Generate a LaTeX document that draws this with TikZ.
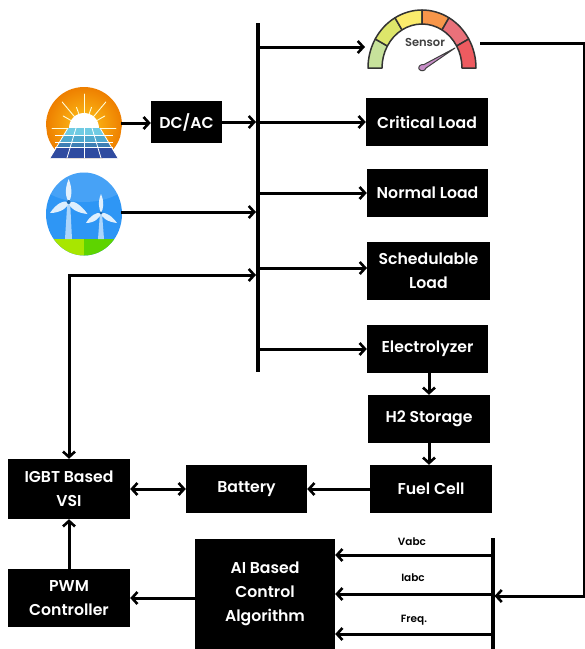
\documentclass[tikz,border=0pt]{standalone}
\usepackage{fontspec}
\setmainfont{Poppins}[BoldFont={Poppins SemiBold}]
\usetikzlibrary{arrows.meta}
\tikzset{
  box/.style={fill=black,text=white,inner sep=0pt,align=center,font=\fontsize{15.7}{24}\selectfont\bfseries},
  wire/.style={line width=3pt,draw=black},
  flow/.style={wire,-{Straight Barb[length=5.5pt,width=12pt,line width=2.6pt]}},
  flowboth/.style={wire,{Straight Barb[length=5.5pt,width=12pt,line width=2.6pt]}-{Straight Barb[length=5.5pt,width=12pt,line width=2.6pt]}},
  tobus/.style={shorten >=2pt},
  bus/.style={line width=4pt,draw=black},
  tag/.style={inner sep=0pt,text=black,font=\fontsize{10.5}{12}\selectfont\bfseries},
  seg/.style={draw=black!80,line width=1.5pt,line join=round},
  blade/.style={fill=white,fill opacity=.85},
  ray/.style={draw=white!85!yellow,line width=.9pt,line cap=round}
}
\definecolor{g1}{HTML}{C7E29B}\definecolor{g2}{HTML}{DDE66A}\definecolor{g3}{HTML}{FBEC6C}
\definecolor{g4}{HTML}{F7964A}\definecolor{g5}{HTML}{E9717A}\definecolor{g6}{HTML}{EE5B60}
\definecolor{skyb}{HTML}{2E96F5}\definecolor{grl}{HTML}{A8E600}\definecolor{grd}{HTML}{5ED400}
\definecolor{sunout}{HTML}{EE7F00}\definecolor{sunin}{HTML}{FFC61A}
\definecolor{p1}{HTML}{6FCBE3}\definecolor{p2}{HTML}{4FA9CF}\definecolor{p3}{HTML}{3E7FB4}\definecolor{p4}{HTML}{2F4BA0}
\newcommand{\gaugeseg}[3]{\filldraw[seg,fill=#3] ({422+54*cos(#1)},{68-58*sin(#1)}) arc[start angle=-#1,end angle=-#2,x radius=54,y radius=58]
  -- ({422+40*cos(#2)},{68-44*sin(#2)}) arc[start angle=-#2,end angle=-#1,x radius=40,y radius=44] -- cycle;}
\begin{document}
\begin{tikzpicture}[x=1pt,y=-1pt]
\useasboundingbox (0,0) rectangle (585,649);
% solar icon
\begin{scope}
  \clip (50,158) -- (117,158) -- (122,125) arc[start angle=0,end angle=-180,x radius=38,y radius=38] -- cycle;
  \shade[inner color=sunin,outer color=sunout] (84,125) ellipse[x radius=38,y radius=38];
  \foreach \a/\l in {180/32,150/24,130/34,110/22,90/34,70/22,50/34,30/24,0/32}
    \draw[ray] (84,128) -- ++({\l*cos(\a)},{-\l*sin(\a)});
  \fill[white] (84,128) ellipse[x radius=15,y radius=15];
\end{scope}
\fill[p1] (68,128) -- (100,128) -- (104,135) -- (64,135) -- cycle;
\fill[p2] (64,135) -- (104,135) -- (108,142) -- (60,142) -- cycle;
\fill[p3] (60,142) -- (108,142) -- (111,147) -- (57,147) -- cycle;
\fill[p4] (57,147) -- (111,147) -- (118,158) -- (50,158) -- cycle;
\foreach \t/\b in {68/50,76/67,84/84,92/101,100/118}
  \draw[white,line width=.8pt] (\t,128) -- (\b,158);
\foreach \y in {135,142,147} \draw[white,line width=.7pt] (55,\y) -- (113,\y);
\node[inner sep=0pt,minimum size=0pt] (solar) at (121,123) {};
% wind icon
\begin{scope}
  \clip (84,214) ellipse[x radius=38,y radius=41.5];
  \fill[skyb] (46,172) rectangle (122,256);
  \fill[white,opacity=.12] (84,172) ellipse[x radius=50,y radius=30];
  \fill[grl] (46,239) rectangle (84,256);
  \fill[grd] (84,239) rectangle (122,256);
  \fill[white,opacity=.6] (65,239) -- (67.5,200) -- (70,200) -- (72,239) -- cycle;
  \fill[white,opacity=.6] (98,239) -- (100,213) -- (102,213) -- (104,239) -- cycle;
\end{scope}
\fill[blade] (68.7,179) .. controls (64,190) and (66,198) .. (68.7,202) .. controls (71.5,198) and (73,190) .. (68.7,179) -- cycle;
\fill[blade] (50,213) .. controls (56,204) and (63,200) .. (68.7,202) .. controls (68,208) and (60,213) .. (50,213) -- cycle;
\fill[blade] (87.5,214) .. controls (81,205) and (74,200) .. (68.7,202) .. controls (69,208) and (77,213) .. (87.5,214) -- cycle;
\fill[skyb!70!black] (68.7,202) circle[radius=2];
\fill[blade] (101,194) .. controls (97.5,202) and (99,209) .. (101,213) .. controls (103.5,209) and (104.5,202) .. (101,194) -- cycle;
\fill[blade] (86,223) .. controls (90,216) and (96,212) .. (101,213) .. controls (100.5,218) and (94,223) .. (86,223) -- cycle;
\fill[blade] (117,223) .. controls (112,216) and (106,212) .. (101,213) .. controls (101.5,218) and (108,222) .. (117,223) -- cycle;
\fill[skyb!70!black] (101,213) circle[radius=1.6];
\node[inner sep=0pt,minimum size=0pt] (wind) at (121,212) {};
% sensor gauge
\gaugeseg{150}{180}{g1}
\gaugeseg{120}{150}{g2}
\gaugeseg{90}{120}{g3}
\gaugeseg{60}{90}{g4}
\gaugeseg{30}{60}{g5}
\gaugeseg{0}{30}{g6}
\fill[violet!45!white,draw=black!75,line width=1pt,line join=round] (455,48) -- (424,64.5) .. controls (420,64) and (418,67) .. (419,69) .. controls (421,72) and (425,71) .. (426,68) -- cycle;
\node[tag,text=black!75,font=\fontsize{11.5}{13}\selectfont\bfseries] (sensorlabel) at (425,42) {Sensor};
\coordinate (sensorin) at (365,47);
\coordinate (sensorout) at (480,43);
% boxes
\node[box,minimum width=71pt,minimum height=42pt] (dcac) at (186.5,122) {DC/AC};
\node[box,minimum width=122pt,minimum height=48pt] (critical) at (427,122) {Critical Load};
\node[box,minimum width=121pt,minimum height=48pt] (normal) at (427.5,193) {Normal Load};
\node[box,minimum width=123pt,minimum height=58pt] (sched) at (428.5,271) {Schedulable\\Load};
\node[box,minimum width=121pt,minimum height=48pt] (electro) at (427.5,349) {Electrolyzer};
\node[box,minimum width=122pt,minimum height=48pt] (h2) at (429,419) {H2 Storage};
\node[box,minimum width=122pt,minimum height=48pt] (fuel) at (431,489) {Fuel Cell};
\node[box,minimum width=121pt,minimum height=48pt] (battery) at (246.5,489) {Battery};
\node[box,minimum width=122pt,minimum height=60pt] (igbt) at (69,489) {IGBT Based\\VSI};
\node[box,minimum width=122pt,minimum height=58pt] (pwm) at (69,598) {PWM\\Controller};
\node[box,minimum width=140pt,minimum height=110pt] (ai) at (265,594) {AI Based\\Control\\Algorithm};
% buses
\coordinate (mainbustop) at (258,23);
\coordinate (mainbusbot) at (258,372);
\coordinate (ctltop) at (492.5,538);
\coordinate (ctlbot) at (492.5,649);
\draw[bus] (mainbustop) -- (mainbusbot);
\draw[bus] (ctltop) -- (ctlbot);
% connectors to and from main bus
\draw[flow] (solar.center) -- (dcac.west |- solar.center);
\draw[flow,tobus] (dcac.east) -- (dcac.east -| mainbustop);
\draw[flow,tobus] (wind.center) -- (wind.center -| mainbustop);
\draw[flow] (sensorin -| mainbustop) -- (sensorin);
\draw[flow] (critical.west -| mainbustop) -- (critical.west);
\draw[flow] (normal.west -| mainbustop) -- (normal.west);
\coordinate (schedin) at (367,268);
\draw[flow] (schedin -| mainbustop) -- (schedin);
\draw[flow] (electro.west -| mainbustop) -- (electro.west);
\coordinate (igbtbus) at (69,275);
\draw[flowboth,tobus] (igbt.north) -- (igbtbus) -- (igbtbus -| mainbustop);
% storage chain
\draw[flow] (electro.south -| h2.north) -- (h2.north);
\draw[flow] (h2.south) -- (h2.south |- fuel.north);
\draw[flow] (fuel.west) -- (battery.east);
\draw[flowboth] (igbt.east) -- (battery.west);
% control
\draw[flow] (pwm.north) -- (igbt.south);
\draw[flow] (ai.west |- pwm.east) -- (pwm.east);
\coordinate (vy) at (400,555);
\coordinate (iy) at (400,594);
\coordinate (fy) at (400,634);
\draw[flow] (vy -| ctltop) -- (vy -| ai.east);
\draw[flow] (iy -| ctltop) -- (iy -| ai.east);
\draw[flow] (fy -| ctltop) -- (fy -| ai.east);
\coordinate (sensorcorner) at (584,43);
\coordinate (ctlcorner) at (584,596);
\draw[flow,tobus] (sensorout) -- (sensorcorner) -- (ctlcorner) -- (ctlcorner -| ctltop);
\node[tag] (vabc) at (412,542) {Vabc};
\node[tag] (iabc) at (413,578) {Iabc};
\node[tag] (freq) at (414,620) {Freq.};
\end{tikzpicture}
\end{document}
